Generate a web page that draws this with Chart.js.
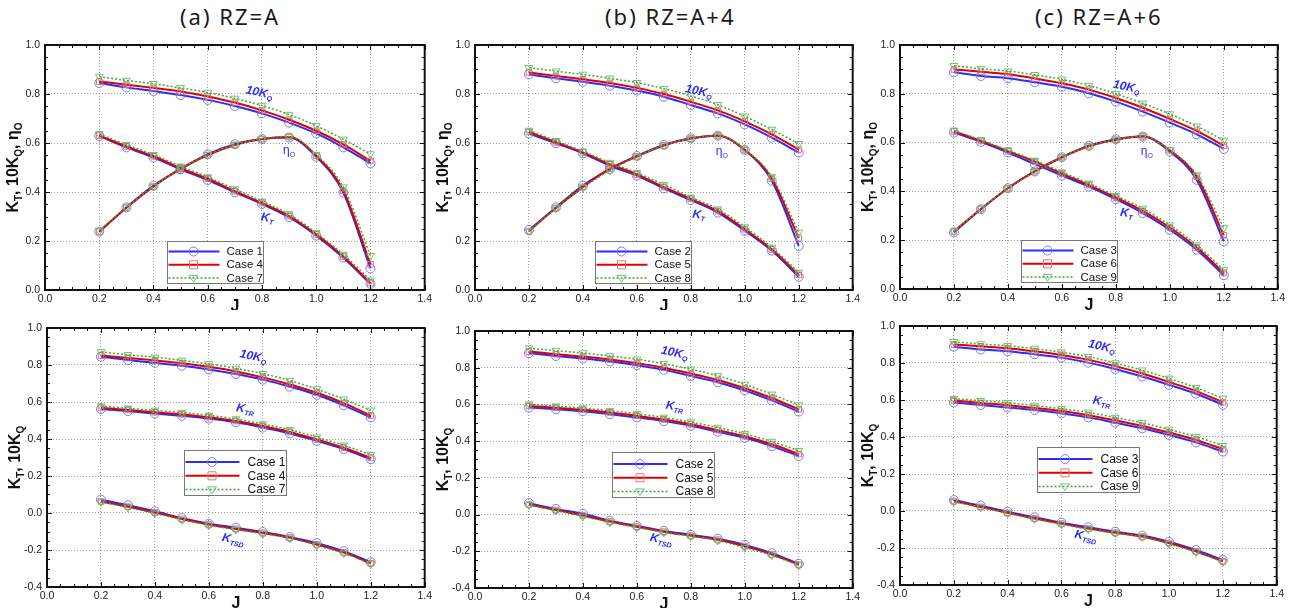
<!DOCTYPE html>
<html>
<head>
<meta charset="utf-8">
<script src="https://cdn.jsdelivr.net/npm/chart.js@4/dist/chart.umd.min.js"></script>
<style>
  body { margin: 0; background: #fff; width: 1296px; height: 608px; position: relative; overflow: hidden; }
  .title { position: absolute; top: 5px; font-family: "Noto Sans", sans-serif; font-size: 22px; letter-spacing: 2px; color: #1a1a1a; white-space: nowrap; line-height: 1; }
  canvas { position: absolute; }
</style>
</head>
<body>
<div class="title" style="left:180px">(a) RZ=A</div>
<div class="title" style="left:605px">(b) RZ=A+4</div>
<div class="title" style="left:1035px">(c) RZ=A+6</div>

<canvas id="c1" width="435" height="280" style="left:0;top:30px"></canvas>
<canvas id="c2" width="433" height="280" style="left:430px;top:30px"></canvas>
<canvas id="c3" width="428" height="280" style="left:860px;top:30px"></canvas>
<canvas id="c4" width="435" height="298" style="left:0;top:310px"></canvas>
<canvas id="c5" width="433" height="298" style="left:430px;top:310px"></canvas>
<canvas id="c6" width="427" height="298" style="left:860px;top:310px"></canvas>

<script>
// advance coefficient J
const J = [0.2, 0.3, 0.4, 0.5, 0.6, 0.7, 0.8, 0.9, 1.0, 1.1, 1.2];

// (a) RZ=A : cases 1, 4, 7
const kqCase1 = [0.845, 0.827, 0.812, 0.796, 0.776, 0.751, 0.721, 0.683, 0.639, 0.582, 0.517];
const kqCase4 = [0.851, 0.838, 0.825, 0.810, 0.790, 0.765, 0.733, 0.695, 0.650, 0.594, 0.527];
const kqCase7 = [0.871, 0.855, 0.842, 0.825, 0.806, 0.782, 0.753, 0.716, 0.670, 0.615, 0.555];
const ktCase1 = [0.629, 0.582, 0.541, 0.493, 0.449, 0.399, 0.351, 0.297, 0.222, 0.132, 0.025];
const ktCase4 = [0.630, 0.586, 0.546, 0.497, 0.454, 0.403, 0.355, 0.302, 0.227, 0.137, 0.028];
const ktCase7 = [0.637, 0.593, 0.552, 0.505, 0.461, 0.412, 0.362, 0.310, 0.233, 0.145, 0.040];
const etaCase1 = [0.238, 0.337, 0.426, 0.493, 0.554, 0.595, 0.616, 0.622, 0.544, 0.397, 0.088];
const etaCase4 = [0.238, 0.336, 0.422, 0.495, 0.551, 0.592, 0.616, 0.625, 0.548, 0.405, 0.105];
const etaCase7 = [0.242, 0.338, 0.422, 0.496, 0.552, 0.593, 0.617, 0.627, 0.552, 0.420, 0.140];
const ktrCase1 = [0.562, 0.551, 0.538, 0.526, 0.511, 0.490, 0.462, 0.430, 0.390, 0.345, 0.291];
const ktrCase4 = [0.568, 0.557, 0.545, 0.533, 0.518, 0.497, 0.470, 0.438, 0.398, 0.353, 0.298];
const ktrCase7 = [0.578, 0.566, 0.555, 0.543, 0.528, 0.508, 0.481, 0.450, 0.410, 0.366, 0.315];
const ktsdCase1 = [0.072, 0.042, 0.009, -0.027, -0.058, -0.079, -0.103, -0.130, -0.163, -0.206, -0.266];
const ktsdCase4 = [0.062, 0.034, 0.003, -0.032, -0.062, -0.086, -0.108, -0.133, -0.170, -0.213, -0.272];
const ktsdCase7 = [0.060, 0.030, -0.002, -0.036, -0.066, -0.090, -0.112, -0.136, -0.175, -0.218, -0.275];

// (b) RZ=A+4 : cases 2, 5, 8
const kqCase2 = [0.880, 0.864, 0.850, 0.834, 0.814, 0.789, 0.755, 0.721, 0.676, 0.622, 0.561];
const kqCase5 = [0.888, 0.874, 0.860, 0.845, 0.825, 0.800, 0.768, 0.733, 0.688, 0.635, 0.573];
const kqCase8 = [0.907, 0.893, 0.880, 0.864, 0.846, 0.822, 0.792, 0.756, 0.709, 0.655, 0.597];
const ktCase2 = [0.639, 0.599, 0.558, 0.507, 0.467, 0.415, 0.367, 0.316, 0.242, 0.161, 0.054];
const ktCase5 = [0.645, 0.603, 0.562, 0.513, 0.472, 0.420, 0.372, 0.322, 0.248, 0.166, 0.062];
const ktCase8 = [0.651, 0.609, 0.566, 0.520, 0.478, 0.430, 0.378, 0.330, 0.257, 0.174, 0.072];
const etaCase2 = [0.245, 0.337, 0.426, 0.493, 0.547, 0.592, 0.619, 0.630, 0.571, 0.446, 0.180];
const etaCase5 = [0.240, 0.335, 0.420, 0.495, 0.545, 0.590, 0.618, 0.631, 0.572, 0.455, 0.212];
const etaCase8 = [0.240, 0.334, 0.418, 0.488, 0.545, 0.590, 0.618, 0.630, 0.573, 0.463, 0.235];
const ktrCase2 = [0.583, 0.574, 0.563, 0.547, 0.529, 0.509, 0.484, 0.451, 0.418, 0.373, 0.319];
const ktrCase5 = [0.592, 0.582, 0.571, 0.556, 0.538, 0.518, 0.492, 0.460, 0.427, 0.383, 0.330];
const ktrCase8 = [0.601, 0.591, 0.580, 0.566, 0.549, 0.529, 0.504, 0.474, 0.440, 0.398, 0.348];
const ktsdCase2 = [0.062, 0.031, 0.004, -0.033, -0.062, -0.089, -0.110, -0.132, -0.165, -0.210, -0.268];
const ktsdCase5 = [0.055, 0.025, -0.005, -0.038, -0.066, -0.093, -0.115, -0.137, -0.172, -0.217, -0.272];
const ktsdCase8 = [0.052, 0.022, -0.010, -0.042, -0.070, -0.097, -0.118, -0.141, -0.180, -0.222, -0.276];

// (c) RZ=A+6 : cases 3, 6, 9
const kqCase3 = [0.888, 0.873, 0.864, 0.847, 0.829, 0.802, 0.768, 0.727, 0.682, 0.634, 0.574];
const kqCase6 = [0.900, 0.890, 0.880, 0.863, 0.843, 0.817, 0.783, 0.743, 0.697, 0.648, 0.588];
const kqCase9 = [0.915, 0.903, 0.893, 0.878, 0.859, 0.834, 0.800, 0.761, 0.717, 0.667, 0.609];
const ktCase3 = [0.641, 0.603, 0.559, 0.512, 0.465, 0.420, 0.368, 0.311, 0.243, 0.161, 0.056];
const ktCase6 = [0.646, 0.607, 0.565, 0.522, 0.473, 0.426, 0.375, 0.320, 0.252, 0.170, 0.066];
const ktCase9 = [0.650, 0.611, 0.569, 0.527, 0.479, 0.433, 0.382, 0.330, 0.262, 0.180, 0.078];
const etaCase3 = [0.232, 0.327, 0.413, 0.482, 0.540, 0.587, 0.614, 0.625, 0.563, 0.447, 0.195];
const etaCase6 = [0.236, 0.328, 0.413, 0.483, 0.540, 0.585, 0.612, 0.626, 0.568, 0.460, 0.220];
const etaCase9 = [0.236, 0.328, 0.413, 0.480, 0.540, 0.585, 0.612, 0.626, 0.570, 0.467, 0.250];
const ktrCase3 = [0.587, 0.573, 0.560, 0.546, 0.528, 0.506, 0.477, 0.447, 0.411, 0.371, 0.321];
const ktrCase6 = [0.597, 0.584, 0.572, 0.557, 0.540, 0.518, 0.490, 0.460, 0.424, 0.384, 0.334];
const ktrCase9 = [0.607, 0.596, 0.585, 0.570, 0.553, 0.533, 0.505, 0.477, 0.441, 0.402, 0.353];
const ktsdCase3 = [0.059, 0.029, -0.004, -0.034, -0.063, -0.088, -0.112, -0.133, -0.166, -0.211, -0.265];
const ktsdCase6 = [0.053, 0.022, -0.010, -0.040, -0.068, -0.095, -0.117, -0.138, -0.173, -0.218, -0.272];
const ktsdCase9 = [0.050, 0.020, -0.012, -0.043, -0.072, -0.098, -0.120, -0.140, -0.178, -0.222, -0.275];

const xTicks = [0.0, 0.2, 0.4, 0.6, 0.8, 1.0, 1.2, 1.4];
const yTicksTop = [0.0, 0.2, 0.4, 0.6, 0.8, 1.0];
const yTicksBottom = [-0.4, -0.2, 0.0, 0.2, 0.4, 0.6, 0.8, 1.0];

// line styles for the three cases in each panel
const styles = [
  { line: '#2b2bff', lw: 2, dash: [], pt: 'circle', pc: 'rgba(110,110,255,0.9)', r: 4.5, rot: 0 },
  { line: '#e00000', lw: 2, dash: [], pt: 'rect', pc: 'rgba(240,105,105,0.95)', r: 4, rot: 0 },
  { line: '#3aa83a', lw: 1.5, dash: [2, 2], pt: 'triangle', pc: 'rgba(110,190,110,0.95)', r: 4.5, rot: 180 }
];

const FONT = '"Liberation Sans", Arial, sans-serif';
const BLUE = '#2b2bff';

function rich(ctx, parts, x, y, size, weight, style, align) {
  const big = `${style} ${weight} ${size}px ${FONT}`;
  const small = `${style} ${weight} ${Math.round(size * 0.62)}px ${FONT}`;
  let w = 0;
  parts.forEach(p => { ctx.font = p[1] ? small : big; w += ctx.measureText(p[0]).width; });
  let cx = align === 'center' ? x - w / 2 : x;
  ctx.textAlign = 'left';
  ctx.textBaseline = 'middle';
  parts.forEach(p => {
    ctx.font = p[1] ? small : big;
    ctx.fillText(p[0], cx, p[1] ? y + size * 0.32 : y);
    cx += ctx.measureText(p[0]).width;
  });
}

function marker(ctx, s, x, y) {
  ctx.save();
  ctx.setLineDash([]);
  ctx.strokeStyle = s.pc;
  ctx.lineWidth = 1;
  ctx.beginPath();
  if (s.pt === 'circle') ctx.arc(x, y, s.r, 0, Math.PI * 2);
  else if (s.pt === 'rect') ctx.rect(x - s.r, y - s.r, s.r * 2, s.r * 2);
  else { ctx.moveTo(x - s.r, y - s.r * 0.6); ctx.lineTo(x + s.r, y - s.r * 0.6); ctx.lineTo(x, y + s.r * 0.9); ctx.closePath(); }
  ctx.stroke();
  ctx.restore();
}

const deco = {
  id: 'deco',
  afterDatasetsDraw(chart, args, o) {
    const ctx = chart.ctx, a = chart.chartArea, xs = chart.scales.x, ys = chart.scales.y;
    ctx.save();

    // curve labels
    o.labels.forEach(l => {
      ctx.save();
      ctx.translate(xs.getPixelForValue(l.x), ys.getPixelForValue(l.y));
      ctx.rotate(l.rot * Math.PI / 180);
      ctx.fillStyle = BLUE;
      rich(ctx, l.parts, 0, 0, l.size || 12, l.plain ? 'normal' : 'bold', l.plain ? 'normal' : 'italic', 'center');
      ctx.restore();
    });

    // frame and inward ticks
    ctx.strokeStyle = '#111';
    ctx.lineWidth = 2;
    ctx.strokeRect(a.left, a.top, a.right - a.left, a.bottom - a.top);
    ctx.lineWidth = 1;
    ctx.beginPath();
    for (let i = 0; i <= 28; i++) {
      const px = Math.round(xs.getPixelForValue(i * 0.05)) + 0.5;
      const len = i % 4 === 0 ? 5 : 3;
      ctx.moveTo(px, a.bottom); ctx.lineTo(px, a.bottom - len);
      ctx.moveTo(px, a.top); ctx.lineTo(px, a.top + len);
    }
    const n = Math.round((ys.max - ys.min) / 0.05);
    for (let i = 0; i <= n; i++) {
      const py = Math.round(ys.getPixelForValue(ys.min + i * 0.05)) + 0.5;
      const len = i % 4 === 0 ? 5 : 3;
      ctx.moveTo(a.left, py); ctx.lineTo(a.left + len, py);
      ctx.moveTo(a.right, py); ctx.lineTo(a.right - len, py);
    }
    ctx.stroke();

    // legend box
    const lg = o.legend;
    const bx = Math.round(xs.getPixelForValue(lg.x)) + 0.5, by = Math.round(ys.getPixelForValue(lg.y)) + 0.5;
    ctx.fillStyle = '#fff';
    ctx.fillRect(bx, by, lg.w, lg.h);
    ctx.strokeStyle = '#777';
    ctx.lineWidth = 1;
    ctx.strokeRect(bx, by, lg.w, lg.h);
    o.cases.forEach((c, i) => {
      const s = styles[i];
      const yy = by + lg.row0 + i * lg.dy;
      ctx.strokeStyle = s.line;
      ctx.lineWidth = s.lw;
      ctx.setLineDash(s.dash);
      ctx.beginPath();
      ctx.moveTo(bx + 1, yy); ctx.lineTo(bx + lg.lineW, yy);
      ctx.stroke();
      ctx.setLineDash([]);
      marker(ctx, s, bx + lg.lineW / 2, yy);
      ctx.fillStyle = '#111';
      ctx.font = `${lg.font}px ${FONT}`;
      ctx.textAlign = 'left';
      ctx.textBaseline = 'middle';
      ctx.fillText('Case ' + c, bx + lg.textX, yy + 0.5);
    });

    // axis titles
    ctx.fillStyle = '#111';
    ctx.save();
    ctx.translate(a.left - 31, (a.top + a.bottom) / 2);
    ctx.rotate(-Math.PI / 2);
    rich(ctx, o.yTitle, 0, 0, 16, 'bold', 'normal', 'center');
    ctx.restore();
    ctx.font = `bold 16px ${FONT}`;
    ctx.textAlign = 'center';
    ctx.textBaseline = 'middle';
    ctx.fillText('J', (a.left + a.right) / 2, a.bottom + 17);
    ctx.restore();
  }
};

function makeChart(p) {
  const datasets = [];
  p.series.forEach(group => {
    group.forEach((vals, k) => {
      const s = styles[k];
      datasets.push({
        data: J.map((x, i) => ({ x: x, y: vals[i] })),
        borderColor: s.line,
        borderWidth: s.lw,
        borderDash: s.dash,
        pointStyle: s.pt,
        pointRadius: s.r,
        pointRotation: s.rot,
        pointBorderColor: s.pc,
        pointBackgroundColor: 'rgba(0,0,0,0)',
        pointBorderWidth: 1,
        cubicInterpolationMode: 'monotone',
        fill: false,
        order: 3 - k
      });
    });
  });
  const yTicks = p.bottom ? yTicksBottom : yTicksTop;
  return new Chart(document.getElementById(p.id), {
    type: 'line',
    data: { datasets },
    plugins: [deco],
    options: {
      responsive: false,
      animation: false,
      layout: { padding: { top: p.pt, right: 10, left: 0, bottom: 0 } },
      plugins: {
        legend: { display: false },
        tooltip: { enabled: false },
        deco: { labels: p.labels, legend: p.legend, cases: p.cases, yTitle: p.yTitle }
      },
      scales: {
        x: {
          type: 'linear',
          min: xTicks[0], max: xTicks[xTicks.length - 1],
          afterBuildTicks: s => { s.ticks = xTicks.map(v => ({ value: v })); },
          afterFit: s => { s.height = p.xh; },
          ticks: { callback: v => v.toFixed(1), font: { size: 10.5, family: FONT }, color: '#222', padding: 3, maxRotation: 0, autoSkip: false },
          grid: { color: '#9c9c9c', lineWidth: 1, drawTicks: false },
          border: { display: false, dash: [1, 2] }
        },
        y: {
          min: yTicks[0], max: yTicks[yTicks.length - 1],
          afterBuildTicks: s => { s.ticks = yTicks.map(v => ({ value: v })); },
          afterFit: s => { s.width = p.yw; },
          ticks: { callback: v => v.toFixed(1), font: { size: 10.5, family: FONT }, color: '#222', padding: 5, autoSkip: false },
          grid: { color: '#9c9c9c', lineWidth: 1, drawTicks: false },
          border: { display: false, dash: [1, 2] }
        }
      }
    }
  });
}

const topTitle = [['K'], ['T', 1], [', 10K'], ['Q', 1], [', η'], ['O', 1]];
const bottomTitle = [['K'], ['T', 1], [', 10K'], ['Q', 1]];
const legendTop = { w: 96, h: 42, row0: 10, dy: 13.3, lineW: 52, textX: 59, font: 11.5 };
const legendBottom = { w: 102, h: 45, row0: 11.5, dy: 13.8, lineW: 55, textX: 63, font: 12 };

function topLabels(kq, eta, kt) {
  return [
    { x: kq[0], y: kq[1], rot: 12, parts: [['10K'], ['Q', 1]] },
    { x: eta[0], y: eta[1], rot: 0, plain: true, parts: [['η'], ['O', 1]] },
    { x: kt[0], y: kt[1], rot: 8, parts: [['K'], ['T', 1]] }
  ];
}
function bottomLabels(kq, ktr, ktsd) {
  return [
    { x: kq[0], y: kq[1], rot: 12, parts: [['10K'], ['Q', 1]] },
    { x: ktr[0], y: ktr[1], rot: 10, parts: [['K'], ['TR', 1]] },
    { x: ktsd[0], y: ktsd[1], rot: 12, parts: [['K'], ['TSD', 1]] }
  ];
}

const panels = [
  { id: 'c1', yw: 45, pt: 15, xh: 20, cases: [1, 4, 7], yTitle: topTitle,
    series: [[kqCase1, kqCase4, kqCase7], [ktCase1, ktCase4, ktCase7], [etaCase1, etaCase4, etaCase7]],
    labels: topLabels([0.79, 0.805], [0.90, 0.568], [0.82, 0.293]),
    legend: Object.assign({ x: 0.448, y: 0.201 }, legendTop) },
  { id: 'c2', yw: 45, pt: 15, xh: 20, cases: [2, 5, 8], yTitle: topTitle,
    series: [[kqCase2, kqCase5, kqCase8], [ktCase2, ktCase5, ktCase8], [etaCase2, etaCase5, etaCase8]],
    labels: topLabels([0.83, 0.81], [0.915, 0.563], [0.83, 0.306]),
    legend: Object.assign({ x: 0.443, y: 0.201 }, legendTop) },
  { id: 'c3', yw: 40, pt: 15, xh: 21, cases: [3, 6, 9], yTitle: topTitle,
    series: [[kqCase3, kqCase6, kqCase9], [ktCase3, ktCase6, ktCase9], [etaCase3, etaCase6, etaCase9]],
    labels: topLabels([0.84, 0.827], [0.915, 0.561], [0.84, 0.31]),
    legend: Object.assign({ x: 0.448, y: 0.200 }, legendTop) },
  { id: 'c4', bottom: true, yw: 47, pt: 18, xh: 21, cases: [1, 4, 7], yTitle: bottomTitle,
    series: [[kqCase1, kqCase4, kqCase7], [ktrCase1, ktrCase4, ktrCase7], [ktsdCase1, ktsdCase4, ktsdCase7]],
    labels: bottomLabels([0.765, 0.845], [0.735, 0.56], [0.69, -0.145]),
    legend: Object.assign({ x: 0.509, y: 0.343 }, legendBottom) },
  { id: 'c5', bottom: true, yw: 45, pt: 21, xh: 20, cases: [2, 5, 8], yTitle: bottomTitle,
    series: [[kqCase2, kqCase5, kqCase8], [ktrCase2, ktrCase5, ktrCase8], [ktsdCase2, ktsdCase5, ktsdCase8]],
    labels: bottomLabels([0.74, 0.88], [0.74, 0.587], [0.69, -0.138]),
    legend: Object.assign({ x: 0.509, y: 0.342 }, legendBottom) },
  { id: 'c6', bottom: true, yw: 40, pt: 16, xh: 23, cases: [3, 6, 9], yTitle: bottomTitle,
    series: [[kqCase3, kqCase6, kqCase9], [ktrCase3, ktrCase6, ktrCase9], [ktsdCase3, ktsdCase6, ktsdCase9]],
    labels: bottomLabels([0.75, 0.888], [0.75, 0.59], [0.69, -0.139]),
    legend: Object.assign({ x: 0.508, y: 0.344 }, legendBottom) }
];

panels.forEach(makeChart);
</script>
</body>
</html>
